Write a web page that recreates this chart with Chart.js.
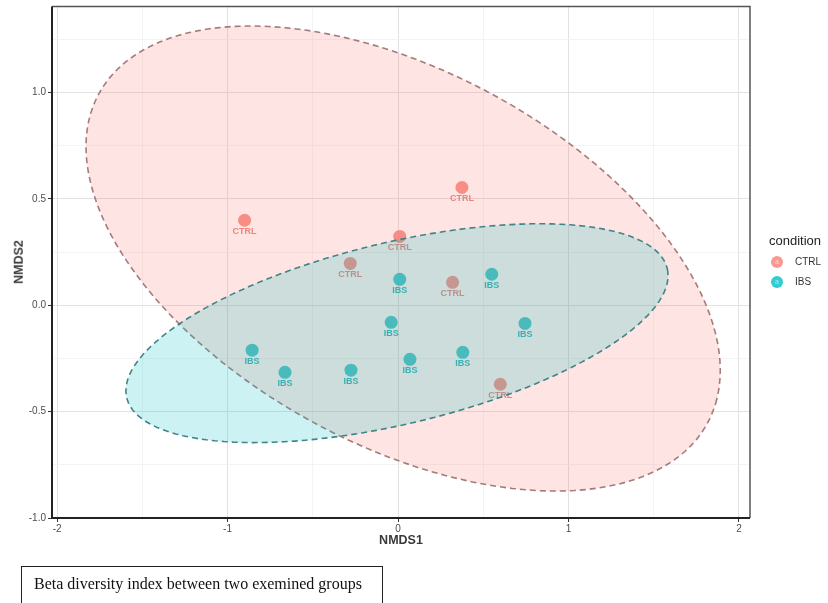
<!DOCTYPE html>
<html><head><meta charset="utf-8">
<script src="https://cdn.jsdelivr.net/npm/chart.js@4.4.1/dist/chart.umd.min.js"></script>
<style>
html,body{margin:0;padding:0;background:#fff;}
#wrap{position:relative;width:828px;height:603px;overflow:hidden;font-family:"Liberation Sans",Arial,sans-serif;}
#c{position:absolute;left:0;top:0;}
.t{position:absolute;white-space:nowrap;color:#333;line-height:1;}
.key{position:absolute;width:12px;height:12px;border-radius:50%;font-size:7px;line-height:12px;text-align:center;color:rgba(255,255,255,0.6);}
#cap{position:absolute;left:21px;top:566px;width:362px;height:60px;border:1px solid #222;box-sizing:border-box;font-family:"Liberation Serif","Times New Roman",serif;font-size:16px;line-height:1;color:#111;padding:9px 0 0 12px;}
</style></head><body>
<div id="wrap">
<canvas id="c" width="828" height="603" style="width:828px;height:603px"></canvas>
<div class="t" style="left:401px;top:540px;font-size:12.5px;font-weight:bold;color:#3a3a3a;transform:translate(-50%,-50%);">NMDS1</div>
<div class="t" style="left:19px;top:262px;font-size:12.5px;font-weight:bold;color:#3a3a3a;transform:translate(-50%,-50%) rotate(-90deg);">NMDS2</div>
<div class="t" style="left:769px;top:234px;font-size:13px;color:#222;">condition</div>
<div class="key" style="left:771px;top:256px;background:rgba(248,118,109,0.75);">a</div>
<div class="t" style="left:795px;top:257px;font-size:10px;">CTRL</div>
<div class="key" style="left:771px;top:276px;background:rgba(0,191,196,0.8);">a</div>
<div class="t" style="left:795px;top:277px;font-size:10px;">IBS</div>
<div id="cap">Beta diversity index between two exemined groups</div>
</div>
<script>
// ---- data ----
const ctrlX = [-0.90, 0.375, 0.01, -0.28, 0.32, 0.60];
const ctrlY = [0.40, 0.554, 0.324, 0.197, 0.108, -0.371];
const ibsX = [0.01, 0.55, 0.745, -0.04, -0.856, -0.663, -0.276, 0.07, 0.38];
const ibsY = [0.122, 0.146, -0.085, -0.08, -0.211, -0.315, -0.305, -0.254, -0.221];
const xTicks = [-2, -1.5, -1, -0.5, 0, 0.5, 1, 1.5, 2];
const yTicks = [-1, -0.75, -0.5, -0.25, 0, 0.25, 0.5, 0.75, 1, 1.25];
const xMajor = [-2, -1, 0, 1, 2];
const yMajor = [-1, -0.5, 0, 0.5, 1];
// ellipse outlines (center, semi-axes, rotation in degrees)
const ctrlEllCenter = [0.03, 0.22];
const ctrlEllAxes = [1.956, 0.912];
const ctrlEllAngle = -20.4;
const ibsEllCenter = [-0.006, -0.131];
const ibsEllAxes = [1.615, 0.431];
const ibsEllAngle = 10.4;

function zip(xs, ys){ return xs.map((x,i)=>({x:x, y:ys[i]})); }
function ellipse(c, ax, ang){
  const pts=[]; const r=ang*Math.PI/180; const n=144;
  for(let i=0;i<=n;i++){
    const t=i/n*2*Math.PI;
    const ex=ax[0]*Math.cos(t), ey=ax[1]*Math.sin(t);
    pts.push({x:c[0]+ex*Math.cos(r)-ey*Math.sin(r), y:c[1]+ex*Math.sin(r)+ey*Math.cos(r)});
  }
  return pts;
}
const isMajor=(v,list)=>list.some(m=>Math.abs(m-v)<1e-9);

const labelPlugin={id:'ptlabels', afterDatasetDraw(chart,args){
  const ds=chart.data.datasets[args.index]; if(!ds.ptLabel) return;
  const ctx=chart.ctx; ctx.save();
  ctx.font='bold 9px "Liberation Sans", Arial, sans-serif';
  ctx.fillStyle=ds.labelColor; ctx.textAlign='center'; ctx.textBaseline='middle';
  args.meta.data.forEach(el=>ctx.fillText(ds.ptLabel, el.x, el.y+11));
  ctx.restore();
}};
const framePlugin={id:'frame', afterDraw(chart){
  const a=chart.chartArea, ctx=chart.ctx; ctx.save();
  ctx.strokeStyle='#555'; ctx.lineWidth=1.5;
  ctx.beginPath(); ctx.moveTo(a.left,a.top); ctx.lineTo(a.right,a.top); ctx.lineTo(a.right,a.bottom); ctx.stroke();
  ctx.strokeStyle='#222'; ctx.lineWidth=2;
  ctx.beginPath(); ctx.moveTo(a.left,a.top); ctx.lineTo(a.left,a.bottom); ctx.lineTo(a.right,a.bottom); ctx.stroke();
  ctx.restore();
}};

new Chart(document.getElementById('c'), {
  type:'scatter',
  data:{datasets:[
    {label:'CTRL', data:zip(ctrlX,ctrlY), order:4, pointRadius:6.5, pointHoverRadius:6.5,
     backgroundColor:'rgba(246,120,110,0.8)', borderWidth:0, ptLabel:'CTRL', labelColor:'rgba(230,112,104,0.85)'},
    {label:'IBS', data:zip(ibsX,ibsY), order:3, pointRadius:6.5, pointHoverRadius:6.5,
     backgroundColor:'rgba(0,191,196,0.8)', borderWidth:0, ptLabel:'IBS', labelColor:'rgba(0,180,186,0.9)'},
    {label:'CTRL ellipse', data:ellipse(ctrlEllCenter,ctrlEllAxes,ctrlEllAngle), order:2, showLine:true,
     pointRadius:0, borderColor:'rgba(155,110,110,0.9)', borderWidth:1.6, borderDash:[6,4],
     backgroundColor:'rgba(248,118,109,0.2)', fill:'shape', tension:0},
    {label:'IBS ellipse', data:ellipse(ibsEllCenter,ibsEllAxes,ibsEllAngle), order:1, showLine:true,
     pointRadius:0, borderColor:'rgba(55,128,130,0.95)', borderWidth:1.6, borderDash:[6,4],
     backgroundColor:'rgba(0,191,196,0.2)', fill:'shape', tension:0}
  ]},
  options:{
    responsive:false, devicePixelRatio:1, animation:false,
    layout:{padding:{left:0, top:6, right:78, bottom:0}},
    plugins:{legend:{display:false}, tooltip:{enabled:false}},
    scales:{
      x:{type:'linear', min:-2.03, max:2.065,
        afterBuildTicks(s){ s.ticks=xTicks.map(v=>({value:v})); },
        afterFit(s){ s.height=85; s.paddingLeft=0; s.paddingRight=0; },
        border:{display:false},
        grid:{color:c=>isMajor(c.tick.value,xMajor)?'#e2e2e2':'#f1f1f1', lineWidth:c=>isMajor(c.tick.value,xMajor)?1:0.8,
              tickColor:c=>isMajor(c.tick.value,xMajor)?'#333':'rgba(0,0,0,0)', tickLength:4},
        ticks:{autoSkip:false, maxRotation:0, padding:1, color:'#4d4d4d', font:{size:10, family:'"Liberation Sans", Arial, sans-serif'},
          callback:v=>isMajor(v,xMajor)?String(v):''}
      },
      y:{type:'linear', min:-1.0, max:1.405,
        afterBuildTicks(s){ s.ticks=yTicks.map(v=>({value:v})); },
        afterFit(s){ s.width=52; s.paddingTop=0; s.paddingBottom=0; },
        border:{display:false},
        grid:{color:c=>isMajor(c.tick.value,yMajor)?'#e2e2e2':'#f1f1f1', lineWidth:c=>isMajor(c.tick.value,yMajor)?1:0.8,
              tickColor:c=>isMajor(c.tick.value,yMajor)?'#333':'rgba(0,0,0,0)', tickLength:4},
        ticks:{autoSkip:false, padding:2, color:'#4d4d4d', font:{size:10, family:'"Liberation Sans", Arial, sans-serif'},
          callback:v=>isMajor(v,yMajor)?Number(v).toFixed(1):''}
      }
    }
  },
  plugins:[labelPlugin, framePlugin]
});
</script>
</body></html>
